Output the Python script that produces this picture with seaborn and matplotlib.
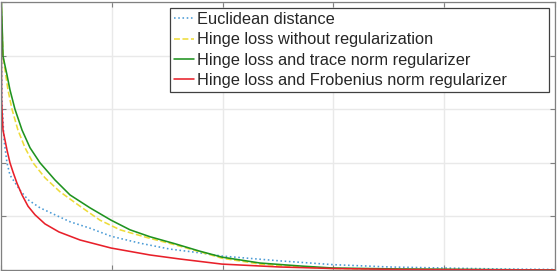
import pandas as pd
import matplotlib
matplotlib.use("Agg")
import matplotlib.pyplot as plt
import seaborn as sns

# values (tick labels are cropped, so units are arbitrary)
x_euc = [0, 0.9, 2.7, 5.4, 8.1, 17.1, 24.4, 35.2, 48.7, 62.3, 80.3, 99.3, 125.5, 152.5, 179.6, 199.5, 251.8, 299.6, 351, 400.7, 450, 500]
y_euc = [0.52, 0.317, 0.243, 0.200, 0.177, 0.149, 0.131, 0.116, 0.103, 0.090, 0.078, 0.063, 0.050, 0.039, 0.032, 0.026, 0.017, 0.010, 0.0056, 0.0037, 0.0019, 0.001]

x_hinge = [0, 0.9, 1.8, 6.3, 9.9, 15.3, 21.7, 28.9, 39.7, 53.2, 71.3, 89.3, 107.4, 132.7, 157, 179.6, 199.5, 233.8, 269.8, 299.6, 360, 500]
y_hinge = [0.52, 0.457, 0.399, 0.336, 0.300, 0.261, 0.228, 0.200, 0.172, 0.146, 0.119, 0.093, 0.075, 0.060, 0.047, 0.034, 0.022, 0.011, 0.0056, 0.0028, 0.001, 0.0]

x_trace = [0, 0.9, 1.8, 5.4, 8.1, 12.6, 19.0, 26.2, 35.2, 48.7, 62.3, 80.3, 99.3, 116.4, 134.5, 157, 179.6, 199.5, 233.8, 269.8, 299.6, 360, 500]
y_trace = [0.52, 0.466, 0.399, 0.364, 0.336, 0.300, 0.261, 0.228, 0.200, 0.168, 0.140, 0.116, 0.093, 0.075, 0.062, 0.049, 0.035, 0.024, 0.013, 0.0075, 0.0037, 0.0019, 0.0]

x_frob = [0, 0.5, 1.8, 5.4, 8.1, 10.8, 14.4, 19.0, 24.4, 30.7, 39.7, 52.3, 71.3, 99.3, 134.5, 161.5, 199.5, 251.8, 299.6, 360, 500]
y_frob = [0.6, 0.317, 0.261, 0.224, 0.200, 0.183, 0.162, 0.140, 0.119, 0.103, 0.086, 0.071, 0.056, 0.041, 0.028, 0.0205, 0.011, 0.0056, 0.0028, 0.001, 0.0]

series = [
    ('Euclidean distance', x_euc, y_euc, '#4a9bd6', ':'),
    ('Hinge loss without regularization', x_hinge, y_hinge, '#eedc3a', '--'),
    ('Hinge loss and trace norm regularizer', x_trace, y_trace, '#1f931f', '-'),
    ('Hinge loss and Frobenius norm regularizer', x_frob, y_frob, '#e8202a', '-'),
]

sns.set_theme(style="whitegrid")
plt.rcParams['font.family'] = ['Liberation Sans', 'DejaVu Sans']

fig = plt.figure(figsize=(5.58, 2.71), dpi=100)
ax = fig.add_axes([1 / 558, 1 / 271, 554 / 558, 268 / 271])
ax.set_facecolor('white')

for label, xs, ys, color, ls in series:
    df = pd.DataFrame({'x': xs, 'y': ys})
    sns.lineplot(data=df, x='x', y='y', ax=ax, color=color, linestyle=ls,
                 linewidth=1.15, estimator=None, sort=False, label=label)

ax.set_xlim(0, 500)
ax.set_ylim(0, 0.5)
ax.set_xticks([0, 100, 200, 300, 400, 500])
ax.set_yticks([0, 0.1, 0.2, 0.3, 0.4, 0.5])
ax.set_xticklabels([])
ax.set_yticklabels([])
ax.set_xlabel('')
ax.set_ylabel('')
ax.grid(True, color='#e9e9e9', linewidth=1.0)
ax.tick_params(direction='in', length=3.5, width=0.8, color='#808080',
               top=True, right=True, bottom=True, left=True)
for sp in ax.spines.values():
    sp.set_color('#808080')
    sp.set_linewidth(0.9)

# MATLAB-style legend box: wider than its text
leg = ax.legend(loc='upper left',
                bbox_to_anchor=(170 / 558, 0, 379 / 558, 1 - 8 / 271),
                bbox_transform=fig.transFigure, mode='expand', borderaxespad=0,
                fontsize=11.8, frameon=True, fancybox=False, framealpha=1,
                borderpad=0.25, labelspacing=0.32, handlelength=1.2,
                handletextpad=0.2)
leg.get_frame().set_edgecolor('#404040')
leg.get_frame().set_linewidth(0.9)

fig.savefig('out.png', dpi=100)
